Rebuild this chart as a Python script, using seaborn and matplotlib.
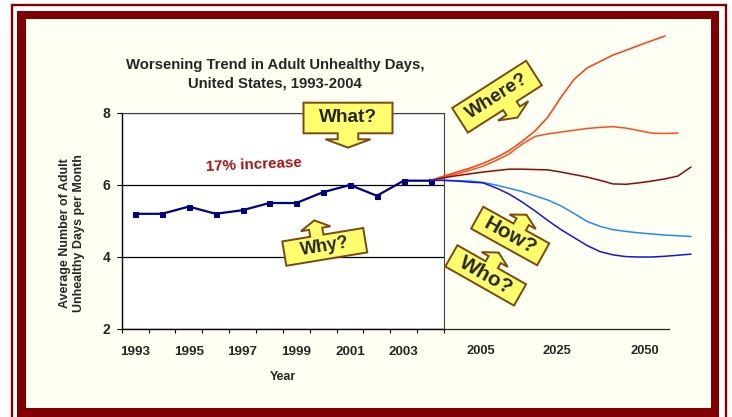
import numpy as np
import pandas as pd
import seaborn as sns
import matplotlib.pyplot as plt
from matplotlib.patches import Polygon, Rectangle

# observed data, 1993-2004
years = ['1993', '1994', '1995', '1996', '1997', '1998',
         '1999', '2000', '2001', '2002', '2003', '2004']
unhealthy_days = [5.2, 5.2, 5.4, 5.2, 5.3, 5.5, 5.5, 5.8, 6.0, 5.7, 6.12, 6.12]

# schematic projections (steps along the future horizon)
proj_step = list(range(21))
proj_high = [6.13, 6.25, 6.36, 6.47, 6.60, 6.76, 6.95, 7.21, 7.50, 7.89, 8.44,
             8.93, 9.25, 9.43, 9.61, 9.74, 9.88, 10.01, 10.14, np.nan, np.nan]
proj_midhigh = [6.13, 6.22, 6.31, 6.41, 6.52, 6.68, 6.86, 7.13, 7.35, 7.42, 7.47,
                7.52, 7.57, 7.60, 7.62, 7.58, 7.51, 7.44, 7.43, 7.44, np.nan]
proj_flat = [6.13, 6.20, 6.26, 6.31, 6.36, 6.40, 6.44, 6.44, 6.43, 6.42, 6.36,
             6.29, 6.22, 6.13, 6.03, 6.02, 6.06, 6.11, 6.17, 6.25, 6.50]
proj_midlow = [6.13, 6.13, 6.12, 6.11, 6.07, 6.00, 5.91, 5.82, 5.70, 5.58, 5.42,
               5.21, 4.99, 4.85, 4.76, 4.71, 4.67, 4.64, 4.61, 4.59, 4.57]
proj_low = [6.13, 6.13, 6.11, 6.08, 6.06, 5.92, 5.75, 5.53, 5.28, 5.01, 4.76,
            4.54, 4.32, 4.15, 4.06, 4.01, 4.00, 4.00, 4.02, 4.05, 4.08]
proj_labels = ['2005', '2025', '2050']

colors = {'high': '#FF3C0A', 'midhigh': '#FF4E1E', 'flat': '#8B0A0A',
          'midlow': '#2288FF', 'low': '#1414E6'}

proj = pd.DataFrame({'step': proj_step * 5,
                     'value': proj_high + proj_midhigh + proj_flat + proj_midlow + proj_low,
                     'scenario': [k for k in ['high', 'midhigh', 'flat', 'midlow', 'low'] for _ in proj_step]})

sns.set_theme(style='white')
plt.rcParams['font.family'] = ['Liberation Sans', 'DejaVu Sans']

W, H = 732, 417
fig = plt.figure(figsize=(W / 100, H / 100), dpi=100)
fig.patch.set_facecolor('white')


def fx(px):
    return px / W


def fy(py):
    return 1 - py / H


def rect(x0, y0, x1, y1, **kw):
    fig.add_artist(Rectangle((fx(x0), fy(y1)), (x1 - x0) / W, (y1 - y0) / H,
                             transform=fig.transFigure, **kw))


# maroon frame
rect(12, 5, 725.5, 425, fill=False, ec='#800000', lw=1.7, zorder=-3)
rect(17.3, 11, 719.3, 425, fc='#800000', ec='none', zorder=-2)
rect(25.7, 19, 711, 407.7, fc='#FFFFF3', ec='none', zorder=-1)

# main chart
ax = fig.add_axes([fx(121.7), fy(329), (444 - 121.7) / W, (329 - 113) / H])
x_main = np.arange(len(years))
sns.lineplot(x=x_main, y=unhealthy_days, ax=ax, color='#000080', marker='s',
             markersize=3.6, markeredgecolor='#000080', linewidth=1.6)
ax.set_xlim(-0.5, 11.5)
ax.set_ylim(2, 8)
ax.set_facecolor('white')
ax.set_yticks([2, 4, 6, 8])
ax.yaxis.grid(True, color='black', lw=0.9)
ax.set_xticks(x_main[::2])
ax.set_xticklabels(years[::2])
ax.set_xticks(np.arange(-0.5, 12, 1), minor=True)
ax.tick_params(axis='x', which='major', length=0, pad=12.5, labelsize=9.6)
ax.tick_params(axis='x', which='minor', length=3, width=0.8, direction='out',
               color='black', bottom=True)
ax.tick_params(axis='y', length=3.6, width=0.8, direction='out', color='black',
               left=True, pad=4.8, labelsize=10)
for lbl in ax.get_xticklabels() + ax.get_yticklabels():
    lbl.set_fontweight('bold')
for side in ['left', 'bottom']:
    ax.spines[side].set_color('black')
    ax.spines[side].set_linewidth(1.0)
for side in ['top', 'right']:
    ax.spines[side].set_color('#404040')
    ax.spines[side].set_linewidth(0.8)
ax.set_ylabel('')
ax.set_xlabel('Year', fontsize=9, fontweight='bold')
ax.xaxis.set_label_coords(0.5, -(377 - 329) / 216)
ax.xaxis.label.set_va('center')
ax.text(4.4, 6.57, '17% increase', color='#A31515', fontsize=10.9,
        fontweight='bold', ha='center', va='center', rotation=2.5)

# projection panel
ax2 = fig.add_axes([fx(431), fy(329), 260 / W, (329 - 113) / H])
sns.lineplot(data=proj, x='step', y='value', hue='scenario', palette=colors,
             legend=False, ax=ax2, linewidth=1.1, clip_on=False)
ax2.set_xlim(0, 20)
ax2.set_ylim(2, 8)
ax2.set_facecolor('none')
for side in ['left', 'right', 'top']:
    ax2.spines[side].set_visible(False)
ax2.spines['bottom'].set_bounds(1.0, 18.3)
ax2.spines['bottom'].set_color('#202020')
ax2.spines['bottom'].set_linewidth(0.9)
ax2.set_yticks([])
ax2.set_xticks([3.85, 9.69, 16.46])
ax2.set_xticklabels(proj_labels)
ax2.tick_params(axis='x', length=0, pad=11.5, labelsize=9.3)
for lbl in ax2.get_xticklabels():
    lbl.set_fontweight('bold')
ax2.set_xlabel('')
ax2.set_ylabel('')

fig.text(fx(275), fy(74.5), 'Worsening Trend in Adult Unhealthy Days,\nUnited States, 1993-2004',
         ha='center', va='center', fontsize=10.7, fontweight='bold', linespacing=1.45)
fig.text(fx(72), fy(233), 'Average Number of Adult\nUnhealthy Days per Month',
         rotation=90, ha='center', va='center', fontsize=9, fontweight='bold',
         linespacing=1.3)


def callout(cx, cy, w, h, angle, label, size, arrow='up', ox=0, s=7, l1=6, a=15, l2=8):
    d = 1 if arrow == 'up' else -1
    hh = h / 2
    pts = np.array([(-w / 2, -d * hh), (w / 2, -d * hh), (w / 2, d * hh),
                    (ox + s, d * hh), (ox + s, d * (hh + l1)), (ox + a, d * (hh + l1)),
                    (ox, d * (hh + l1 + l2)), (ox - a, d * (hh + l1)),
                    (ox - s, d * (hh + l1)), (ox - s, d * hh), (-w / 2, d * hh)])
    t = np.radians(angle)
    rot = np.array([[np.cos(t), -np.sin(t)], [np.sin(t), np.cos(t)]])
    xy = pts @ rot.T
    xy[:, 0] = (xy[:, 0] + cx) / W
    xy[:, 1] = (xy[:, 1] + H - cy) / H
    fig.add_artist(Polygon(xy, closed=True, transform=fig.transFigure,
                           fc='#FFFF6E', ec='#7A4810', lw=1.4, zorder=5))
    fig.text(fx(cx), fy(cy), label, rotation=angle, rotation_mode='anchor',
             ha='center', va='center', fontsize=size, fontweight='bold', zorder=6)


callout(348, 118, 89, 30.6, 0, 'What?', 13.7, 'down', ox=0, s=10.3, l1=6, a=22.5, l2=8.3)
callout(324.75, 246.9, 82, 24.7, 9.4, 'Why?', 13, 'up', ox=-6, s=6.7, l1=7, a=15, l2=8.5)
callout(497, 96.7, 87.8, 29.2, 32.6, 'Where?', 13.9, 'down', ox=6, s=8, l1=6, a=18, l2=8)
callout(510.2, 236, 75.5, 25, -29, 'How?', 15, 'up', ox=4, s=7, l1=6, a=15, l2=8)
callout(485.7, 275.4, 79, 24.5, -29.6, 'Who?', 15, 'up', ox=0, s=7, l1=6, a=15, l2=8)

fig.savefig('out.png', dpi=100)
